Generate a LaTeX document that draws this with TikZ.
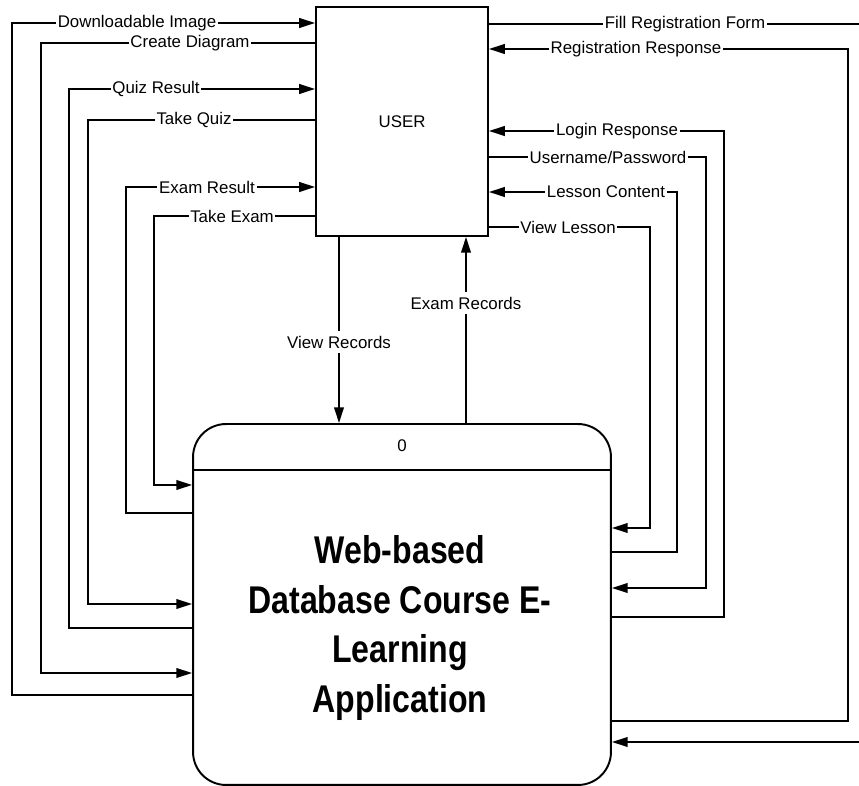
\documentclass[tikz,border=0pt]{standalone}
\usepackage{fontspec}
\setmainfont{Liberation Sans}
\newfontfamily\titlefont[FakeStretch=0.83]{Liberation Sans}
\usepackage{tikz}
\usetikzlibrary{arrows.meta}

\begin{document}
\begin{tikzpicture}[x=0.02cm, y=-0.02cm]
    \tikzstyle{E}=[rectangle,draw,line width=1.1pt,minimum width=3.44cm,minimum height=4.58cm,font=\fontsize{9.6}{11.5}\selectfont]
    \tikzstyle{P}=[rectangle,draw,line width=1.1pt,rounded corners=0.66cm,minimum width=8.36cm,minimum height=7.22cm]
    \tikzstyle{flow}=[line width=1.1pt]
    \tikzstyle{arr}=[line width=1.1pt,-{Triangle[length=9pt,width=5.5pt]}]
    \tikzstyle{lbl}=[fill=white,inner xsep=1pt,inner ysep=1pt,font=\fontsize{9.6}{11.5}\selectfont]

   \useasboundingbox (0,0) rectangle (859,786);
   \clip (0,0) rectangle (859,786);

   % entity and process
   \node [E] (user) at (402,121.5) {USER};
   \node [P] (proc) at (402,604.5) {};
   \draw [flow] (proc.west |- 0,470) -- (proc.east |- 0,470);
   \node [lbl] (zero) at (402,446) {0};
   \node [anchor=north,align=center,inner sep=0pt,font=\titlefont\bfseries\fontsize{22}{28.3}\selectfont] (title) at (400,535)
      {Web-based\\Database Course E-\\Learning\\Application};

   % left side flows
   \draw [arr] (proc.west |- 0,695) -| (12,23) -- (user.west |- 0,23);
   \draw [arr] (user.west |- 0,43) -| (41,673) -- (proc.west |- 0,673);
   \draw [arr] (proc.west |- 0,628) -| (69,89) -- (user.west |- 0,89);
   \draw [arr] (user.west |- 0,120) -| (88,604) -- (proc.west |- 0,604);
   \draw [arr] (proc.west |- 0,513) -| (126,187) -- (user.west |- 0,187);
   \draw [arr] (user.west |- 0,216) -| (154,485) -- (proc.west |- 0,485);

   % right side flows
   \draw [arr] (user.east |- 0,24) -- (870,24) -- (870,742) -- (proc.east |- 0,742);
   \draw [arr] (proc.east |- 0,721) -| (848,49) -- (user.east |- 0,49);
   \draw [arr] (proc.east |- 0,617) -| (724,131) -- (user.east |- 0,131);
   \draw [arr] (user.east |- 0,157) -| (706,588) -- (proc.east |- 0,588);
   \draw [arr] (proc.east |- 0,552) -| (677,192) -- (user.east |- 0,192);
   \draw [arr] (user.east |- 0,227) -| (650,528) -- (proc.east |- 0,528);

   % records
   \draw [arr] (user.south -| 339,0) -- (proc.north -| 339,0);
   \draw [arr] (proc.north -| 466,0) -- (user.south -| 466,0);

   % labels
   \node [lbl] (dimg) at (137,23) {Downloadable Image};
   \node [lbl] (cdia) at (190,43) {Create Diagram};
   \node [lbl] (qres) at (156,89) {Quiz Result};
   \node [lbl] (tquiz) at (194,120) {Take Quiz};
   \node [lbl] (eres) at (207,187) {Exam Result};
   \node [lbl] (texam) at (232,216) {Take Exam};
   \node [lbl] (freg) at (685,24) {Fill Registration Form};
   \node [lbl] (rres) at (636,49) {Registration Response};
   \node [lbl] (lres) at (617,131) {Login Response};
   \node [lbl] (upass) at (608,157) {Username/Password};
   \node [lbl] (lcon) at (606,192) {Lesson Content};
   \node [lbl] (vles) at (568,227) {View Lesson};
   \node [lbl,inner ysep=3pt] (vrec) at (339,342) {View Records};
   \node [lbl,inner ysep=3pt] (erec) at (466,303) {Exam Records};
\end{tikzpicture}
\end{document}
